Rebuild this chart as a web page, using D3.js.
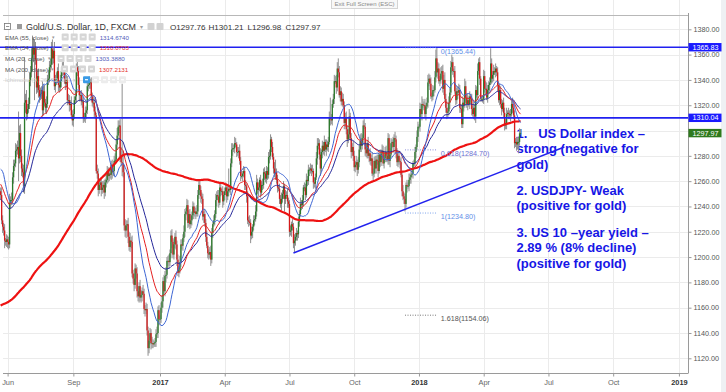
<!DOCTYPE html>
<html>
<head>
<meta charset="utf-8">
<script src="https://cdn.jsdelivr.net/npm/d3@7/dist/d3.min.js"></script>
<style>
html,body{margin:0;padding:0;background:#fff;}
svg{display:block;}
</style>
</head>
<body>
<svg id="chart" width="726" height="392"></svg>
<script>
// ---------------- DATA ----------------
// Daily closes before the visible window (Aug 10 2015 - May 20 2016), used only to warm up the moving averages
const priorCloses = [
1103,1108,1124,1115,1113,1118,1117,1127,1153,1160,1153,1138,1124,1124,1134,1133,
1142,1133,1124,1121,1120,1104,1109,1103,1108,1108,1103,1118,1117,1138,1132,1133,1132,1154,1145,1131,1127,1114,
1114,1136,1137,1146,1146,1140,1156,1168,1165,1167,1182,1186,1177,1172,1170,1176,1166,1164,1166,1176,1166,1147,
1136,1133,1116,1104,1088,1089,1089,1084,1077,1081,1084,1083,1068,1077,1075,1068,1071,1075,1070,1058,1065,
1061,1054,1062,1086,1075,1073,1075,1074,1076,1063,1062,1064,1050,1049,1068,1075,1078,1069,1076,1070,1071,1059,1061,
1075,1082,1092,1108,1100,1103,1097,1086,1092,1074,1089,1089,1087,1099,1097,1095,1108,1106,1115,1117,1119,
1118,1126,1140,1157,1173,1158,1196,1193,1245,1238,1207,1209,1210,1226,1231,1209,1223,1237,1253,1245,1226,
1238,1232,1263,1273,1265,1258,1263,1255,1272,1258,1246,1232,1266,1257,1245,1242,1220,1222,1224,1220,1242,1233,1236,
1222,1219,1234,1225,1238,1243,1258,1260,1245,1228,1234,1235,1255,1250,1251,1232,1236,1242,1250,1266,1292,
1294,1290,1279,1274,1290,1264,1264,1276,1264,1273,1281,1277,1258,1254,1252
];
// Daily closes, one per weekday, from May 23 2016 to May 23 2018 (open = previous close)
const closes = [
1249,1229,1224,1221,1213,1212,1214,
1212,1210,1243,1245,1245,1263,1272,1274,1284,1285,1287,1278,1298,1280,1270,1267,1256,1322,1324,1313,1317,1321,
1340,1346,1357,1366,1360,1366,1356,1334,1343,1332,1327,1329,1332,1316,1331,1322,1318,1321,1340,1341,1350,
1352,1366,1357,1363,1335,1340,1341,1347,1336,1334,1339,1347,1350,1347,1341,1337,1340,1324,1324,1320,1321,1312,1308,
1313,1324,1327,1350,1347,1336,1328,1328,1323,1323,1310,1310,1314,1316,1335,1336,1338,1338,1327,1322,1322,1315,
1312,1268,1266,1253,1257,1259,1253,1255,1257,1251,1259,1261,1268,1264,1266,1265,1273,1267,1268,1276,1277,
1289,1296,1303,1304,1279,1275,1274,1267,1225,1221,1225,1226,1216,1208,1213,1212,1187,1183,1178,1191,1187,1173,
1169,1177,1168,1170,1173,1171,1159,1158,1159,1142,1128,1134,1140,1132,1132,1131,1132,1133,1139,1140,1158,1151,
1151,1160,1165,1181,1173,1185,1186,1197,1197,1196,1203,1217,1212,1202,1210,1216,1210,1198,1188,1190,1196,1210,
1209,1215,1220,1234,1236,1241,1227,1234,1226,1229,1233,1240,1235,1236,1234,1236,1249,1257,1253,1248,
1246,1232,1234,1227,1216,1209,1203,1202,1204,1198,1219,1226,1229,1234,1245,1249,1248,1243,1255,1252,1252,1244,1249,
1252,1255,1248,1252,1254,1253,1274,1285,1286,1286,1290,1289,1283,1283,1284,1276,1264,1264,1266,1268,
1257,1256,1248,1229,1228,1227,1217,1220,1224,1229,1230,1236,1259,1253,1255,1261,1251,1257,1257,1267,1266,1262,1268,
1265,1279,1280,1293,1287,1279,1270,1266,1267,1261,1255,1254,1246,1242,1246,1250,1256,1246,1249,1249,1244,1242,
1220,1221,1226,1224,1211,1213,1216,1219,1218,1228,1234,1242,1241,1245,1255,1255,1249,1261,1260,1269,1269,
1270,1268,1268,1259,1258,1263,1278,1288,1290,1281,1270,1283,1288,1284,1291,1285,1289,1287,1291,1310,1309,1308,1321,
1325,1339,1339,1334,1349,1346,1328,1331,1323,1325,1320,1306,1310,1301,1293,1297,1311,1294,1283,1287,1280,
1271,1273,1275,1269,1275,1285,1292,1288,1294,1304,1303,1285,1282,1290,1280,1282,1276,1278,1266,1266,1276,1270,
1277,1276,1268,1281,1275,1282,1284,1274,1278,1283,1280,1277,1294,1276,1281,1290,1291,1287,1294,1293,1282,1275,
1280,1276,1275,1265,1252,1248,1246,1242,1257,1256,1256,1261,1263,1265,1266,1274,1274,1283,1287,1295,1303,
1303,1317,1313,1321,1320,1320,1313,1319,1322,1338,1341,1337,1327,1327,1332,1332,1342,1357,1346,1349,1339,1340,1345,
1347,1333,1340,1325,1318,1314,1315,1322,1330,1350,1354,1347,1347,1331,1324,1331,1330,1332,1318,1317,
1305,1322,1320,1335,1326,1321,1324,1321,1327,1325,1317,1313,1318,1311,1332,1328,1347,1354,1341,1325,1325,1325,
1343,1333,1333,1326,1332,1336,1338,1353,1341,1344,1347,1346,1349,1346,1336,1324,1332,1321,1317,1322,1314,
1304,1306,1313,1314,1313,1312,1313,1321,1318,1312,1290,1291,1289,1291,1291,1297.76,1297.97
];
// Upper wick: high minus max(open, close), in dollars
const wickUp = [
3,6,4,3,5,2,4,
3,4,7,3,6,4,5,3,6,4,5,28,6,7,5,4,6,36,5,8,4,5,
6,5,8,9,7,6,4,9,5,6,4,5,3,7,4,5,3,6,4,7,5,
5,4,6,3,7,4,5,3,6,4,5,3,4,6,3,5,4,3,5,4,3,6,4,
4,3,5,3,5,4,6,3,4,5,3,4,5,3,6,4,5,3,4,3,5,4,
4,2,5,4,5,3,4,5,3,4,3,5,4,3,4,5,3,4,3,4,5,
4,6,5,4,5,8,62,10,6,5,4,3,5,4,6,3,5,3,4,4,3,5,
4,3,5,4,3,5,4,3,5,4,3,5,4,3,5,3,2,3,4,5,3,4,
3,4,5,3,5,4,6,3,4,5,3,4,5,3,4,3,5,3,4,3,5,4,
4,3,5,4,3,5,4,3,4,5,3,4,3,4,3,5,4,3,4,3,
3,4,2,4,3,5,3,3,4,5,4,2,4,3,5,3,4,5,3,4,2,4,3,
3,4,2,4,16,3,4,5,4,3,5,4,2,4,3,5,3,4,2,4,
3,4,2,4,3,5,3,4,2,4,3,5,6,3,4,2,4,3,5,3,4,2,4,
3,4,5,4,2,4,3,5,10,3,4,2,4,3,5,3,4,2,4,3,5,3,
3,4,2,4,3,5,3,4,2,4,3,5,3,4,2,4,3,5,3,4,2,
4,3,5,2,4,3,5,6,4,3,5,2,4,3,5,2,4,3,4,5,16,4,3,
4,5,4,5,5,8,5,4,3,5,4,3,4,5,3,4,6,3,4,3,5,
4,3,5,2,4,3,5,6,3,4,5,3,4,2,5,3,4,3,5,4,3,4,
3,4,5,2,4,3,5,4,3,4,5,2,4,3,5,4,2,4,3,5,3,4,
3,4,2,4,3,5,3,4,2,4,3,5,3,4,2,2,3,4,2,5,4,
2,5,4,6,4,3,5,3,4,6,4,3,5,3,4,3,5,7,9,5,4,3,5,
4,5,4,6,4,5,3,5,4,5,6,4,2,4,5,3,4,5,4,3,
4,5,3,6,4,3,5,3,4,2,4,3,5,3,4,3,6,3,4,2,2,3,
5,4,6,5,4,3,4,12,4,3,5,3,4,2,4,3,5,3,4,2,4,
4,3,5,2,4,3,4,3,5,3,4,3,4,3,4,4,3.24
];
// Lower wick: min(open, close) minus low, in dollars
const wickDown = [
4,3,5,4,6,3,4,
5,4,3,5,4,3,5,4,3,5,4,18,4,5,6,4,5,6,8,5,4,3,
4,5,4,10,6,36,4,5,4,6,5,3,4,5,4,3,4,5,3,4,3,
4,3,5,4,3,5,4,3,5,4,3,5,4,3,4,5,3,4,3,5,4,3,4,
5,4,3,5,4,3,5,4,3,5,4,3,4,5,3,4,3,5,4,3,4,5,
3,2,4,5,3,4,5,3,4,5,3,4,3,5,4,3,4,5,3,4,3,
3,4,3,5,4,3,10,4,4,5,6,4,5,3,4,5,3,4,5,3,4,5,
4,5,3,4,5,3,4,5,3,4,6,4,3,5,4,3,2,3,4,3,4,5,
4,3,4,5,3,4,5,3,4,5,3,4,5,3,4,3,4,5,3,4,3,4,
3,4,3,4,5,3,4,3,4,3,4,3,5,3,4,2,4,3,4,5,
4,3,5,3,4,2,4,4,3,5,3,4,2,4,3,5,3,4,2,4,3,5,3,
4,3,5,3,4,2,4,3,5,3,4,2,4,3,5,3,4,2,4,3,
4,3,5,3,4,2,6,3,5,3,4,2,4,3,5,3,4,2,4,3,5,3,4,
4,3,5,3,4,2,4,3,5,3,4,2,4,3,5,3,4,10,4,3,5,3,
4,3,5,3,4,7,4,3,5,3,4,2,4,3,5,3,4,2,4,3,5,
3,4,2,5,3,4,2,5,3,4,6,2,5,3,4,2,5,3,4,2,5,3,4,
3,4,2,5,3,4,2,5,3,4,2,5,3,4,6,3,4,2,5,3,4,
3,4,2,5,3,4,2,5,3,4,2,5,3,4,2,5,3,4,2,5,3,4,
4,3,5,2,4,3,5,2,4,3,5,2,4,3,5,2,4,3,5,2,4,3,
4,3,5,2,4,3,4,6,3,5,2,4,3,5,2,4,2,3,5,2,4,
2,4,3,5,2,4,3,5,2,4,3,5,2,4,3,5,2,4,3,5,2,4,3,
4,3,5,2,4,5,4,3,5,2,4,3,5,2,4,3,5,2,4,3,
3,3,5,2,4,3,5,2,4,3,5,2,4,3,5,2,4,3,5,2,2,3,
4,3,5,2,4,3,5,2,4,3,5,2,4,3,5,2,4,3,5,2,4,
4,3,5,2,4,3,5,2,4,3,4,3,5,4,9,3,0.78
];
const firstDay = "2016-05-23";
const lastCalendarDay = "2019-01-31";
const yTicks = [1120,1140,1160,1180,1200,1220,1240,1260,1280,1300,1320,1340,1360,1380];
const xTickMonths = ["2016-06","2016-09","2017-01","2017-04","2017-07","2017-10","2018-01","2018-04","2018-07","2018-10","2019-01"];
const monthAbbr = ["Jan","Feb","Mar","Apr","May","Jun","Jul","Aug","Sep","Oct","Nov","Dec"];
const horizontalLevels = [1365.83, 1310.04];
const trendDates = ["2017-07-07", "2018-07-24"];
const trendPrices = [1203.2, 1287.0];
const fibDates = ["2017-12-12", "2018-01-25"];
const fibLow = 1234.80, fibHigh = 1365.44;
const fibLevels = [0, 0.618, 1, 1.618];
const lastPrice = 1297.97;
const symbolTitle = "Gold/U.S. Dollar, 1D, FXCM";
const ohlcLabels = ["O1297.76", "H1301.21", "L1296.98", "C1297.97"];
const indicatorLabels = ["EMA (55, close)", "EMA (34, close)", "MA (20, close)", "MA (200, close)"];
const indicatorValues = ["1314.6740", "1310.0703", "1303.3880", "1307.2131"];
const hiddenIndicator = "Ichimoku (9, 26, 52, 26)";
const notes = ["1.   US Dollar index –", "strong (negative for", "gold)", "2. USDJPY- Weak", "(positive for gold)", "3. US 10 –year yield –", "2.89 % (8% decline)", "(positive for gold)"];
const tooltipText = "Exit Full Screen (ESC)";

// ---------------- CHART ----------------
const FONT = "'Liberation Sans', Arial, Helvetica, sans-serif";
const svg = d3.select("#chart").attr("font-family", FONT);
const plotR = 688, plotT = 16, plotB = 373;

// weekday calendar (bar index -> date)
const days = [];
for (let t = Date.parse(firstDay + "T00:00:00Z"); t <= Date.parse(lastCalendarDay + "T00:00:00Z"); t += 86400000) {
  const d = new Date(t); const w = d.getUTCDay();
  if (w > 0 && w < 6) days.push(d);
}
const iso = d => d.toISOString().slice(0, 10);
const dayIndex = s => days.findIndex(d => iso(d) === s);

const xs = d3.scaleLinear().domain([-0.643, 690.12]).range([0, plotR]);
const ys = d3.scaleLinear().domain([1120, 1380]).range([358.3, 29.3]);

// indicators
const all = priorCloses.concat(closes);
const off = priorCloses.length;
function sma(n) {
  return closes.map((_, i) => {
    const j = i + off; let s = 0;
    for (let k = j - n + 1; k <= j; k++) s += all[k];
    return s / n;
  });
}
function ema(n) {
  const a = 2 / (n + 1); let e = null; const out = [];
  for (let j = 0; j < all.length; j++) {
    if (j === n - 1) { let s = 0; for (let k = 0; k < n; k++) s += all[k]; e = s / n; }
    else if (j >= n) e = a * all[j] + (1 - a) * e;
    if (j >= off) out.push(e);
  }
  return out;
}

// background
svg.append("rect").attr("width", 726).attr("height", 392).attr("fill", "#ffffff");
svg.append("rect").attr("x", 721).attr("y", 0).attr("width", 5).attr("height", 392).attr("fill", "#eef0f3");

// grid
const xTickIdx = xTickMonths.map(m => days.findIndex(d => iso(d).slice(0, 7) === m));
const xTickLabels = xTickMonths.map(m => m.endsWith("-01") ? m.slice(0, 4) : monthAbbr[+m.slice(5) - 1]);
const grid = svg.append("g");
grid.selectAll("line.h").data(yTicks).join("line").attr("class", "h")
  .attr("x1", 3).attr("x2", plotR).attr("y1", d => Math.round(ys(d)) + 0.5).attr("y2", d => Math.round(ys(d)) + 0.5)
  .attr("stroke", "#ebebeb");
grid.selectAll("line.v").data(xTickIdx).join("line").attr("class", "v")
  .attr("x1", d => Math.round(xs(d)) + 0.5).attr("x2", d => Math.round(xs(d)) + 0.5)
  .attr("y1", 0).attr("y2", plotB).attr("stroke", "#ebebeb");

// annotation text (under the candles)
const noteY = [137.5, 153, 168.5, 194.5, 210, 236.5, 252, 267.5];
svg.append("g").selectAll("text").data(notes).join("text")
  .attr("x", 516.5).attr("y", (d, i) => noteY[i])
  .attr("font-size", 13).attr("font-weight", "bold").attr("fill", "#1616e6")
  .style("white-space", "pre").text(d => d);

// clip
svg.append("clipPath").attr("id", "plot").append("rect")
  .attr("x", 0).attr("y", plotT).attr("width", plotR).attr("height", plotB - plotT);
const pg = svg.append("g").attr("clip-path", "url(#plot)");

// candles
const bars = closes.map((c, i) => {
  const o = i > 0 ? closes[i - 1] : priorCloses[priorCloses.length - 1];
  return { i, o, c, h: Math.max(o, c) + wickUp[i], l: Math.min(o, c) - wickDown[i] };
});
pg.append("g").selectAll("line").data(bars).join("line")
  .attr("x1", d => xs(d.i)).attr("x2", d => xs(d.i))
  .attr("y1", d => ys(d.h)).attr("y2", d => ys(d.l))
  .attr("stroke", "#8e8e8e").attr("stroke-width", 1);
pg.append("g").selectAll("rect").data(bars).join("rect")
  .attr("x", d => xs(d.i) - 0.65).attr("width", 1.3)
  .attr("y", d => ys(Math.max(d.o, d.c)))
  .attr("height", d => Math.max(0.8, Math.abs(ys(d.o) - ys(d.c))))
  .attr("fill", d => d.c >= d.o ? "#2b7a2b" : "#d41a1a");

// moving averages
const lineGen = d3.line().x((d, i) => xs(i)).y(d => ys(d));
const maSeries = [
  { v: sma(200), color: "#ee1212", w: 2.2 },
  { v: ema(55), color: "#26289a", w: 1 },
  { v: ema(34), color: "#e52020", w: 1 },
  { v: sma(20), color: "#3d66d4", w: 1 }
];
maSeries.forEach(s => {
  pg.append("path").attr("d", lineGen(s.v)).attr("fill", "none")
    .attr("stroke", s.color).attr("stroke-width", s.w).attr("stroke-linejoin", "round");
});

// horizontal levels
pg.selectAll("line.lvl").data(horizontalLevels).join("line").attr("class", "lvl")
  .attr("x1", 0).attr("x2", plotR).attr("y1", d => ys(d)).attr("y2", d => ys(d))
  .attr("stroke", "#2020f0").attr("stroke-width", 1.6);

// trend line
pg.append("line")
  .attr("x1", xs(dayIndex(trendDates[0]))).attr("y1", ys(trendPrices[0]))
  .attr("x2", xs(dayIndex(trendDates[1]))).attr("y2", ys(trendPrices[1]))
  .attr("stroke", "#2222ee").attr("stroke-width", 1.5);

// fibonacci extension
const fibColors = { 0: "#5f8fe8", 0.618: "#6d72d2", 1: "#5f8fe8", 1.618: "#555555" };
const fx0 = xs(dayIndex(fibDates[0])), fx1 = xs(dayIndex(fibDates[1]));
fibLevels.forEach(l => {
  const p = fibHigh - l * (fibHigh - fibLow);
  pg.append("line").attr("x1", fx0).attr("x2", fx1).attr("y1", ys(p)).attr("y2", ys(p))
    .attr("stroke", fibColors[l]).attr("stroke-width", 0.8).attr("stroke-dasharray", "1,1.5");
  pg.append("text").attr("x", fx1 + 3.8).attr("y", ys(p) + 6)
    .attr("font-size", 7.2).attr("fill", fibColors[l]).text(l + "(" + p.toFixed(2) + ")");
});

// frame lines
svg.append("line").attr("x1", 3).attr("x2", plotR).attr("y1", 15.5).attr("y2", 15.5).attr("stroke", "#b8b8b8");
svg.append("line").attr("x1", 688.5).attr("x2", 688.5).attr("y1", 13).attr("y2", plotB).attr("stroke", "#9a9a9a");
svg.append("line").attr("x1", 3).attr("x2", 688.5).attr("y1", 373.5).attr("y2", 373.5).attr("stroke", "#9a9a9a");

// price tags (data)
const tagData = [
  { p: horizontalLevels[0], fill: "#1a1aff" },
  { p: horizontalLevels[1], fill: "#1a1aff" },
  { p: lastPrice, fill: lastPrice >= closes[closes.length - 2] ? "#2e7a1c" : "#d41a1a" }
];

// right axis (labels hidden where a price tag covers them, as in the reference)
const ya = svg.append("g").attr("transform", "translate(688.5,0)")
  .call(d3.axisRight(ys).tickValues(yTicks).tickFormat(d3.format(".2f")).tickSize(3).tickPadding(2));
ya.select(".domain").remove();
ya.selectAll("line").attr("stroke", "#9a9a9a");
ya.selectAll("text").attr("font-size", 7.2).attr("fill", "#555").attr("font-family", FONT)
  .attr("display", d => tagData.some(t => Math.abs(ys(t.p) - ys(d)) < 4) ? "none" : null);

// bottom axis
const xa = svg.append("g").attr("transform", "translate(0,373.5)")
  .call(d3.axisBottom(xs).tickValues(xTickIdx).tickFormat((d, i) => xTickLabels[i]).tickSize(3).tickPadding(3));
xa.select(".domain").remove();
xa.selectAll("line").attr("stroke", "#9a9a9a");
xa.selectAll("text").attr("font-size", 7.4).attr("font-family", FONT)
  .attr("fill", (d, i) => /^\d{4}$/.test(xTickLabels[i]) ? "#333" : "#666")
  .attr("font-weight", (d, i) => /^\d{4}$/.test(xTickLabels[i]) ? "bold" : "normal");

const tags = svg.append("g").selectAll("g").data(tagData).join("g");
tags.append("rect").attr("x", 688.5).attr("y", d => ys(d.p) - 4.2).attr("width", 33).attr("height", 8.4).attr("fill", d => d.fill);
tags.append("text").attr("x", 692.5).attr("y", d => ys(d.p) + 2.6).attr("font-size", 7.2).attr("fill", "#fff")
  .text(d => d3.format(".2f")(d.p));

// legend
const lg = svg.append("g");
lg.append("rect").attr("x", 4.5).attr("y", 23.5).attr("width", 6).attr("height", 6).attr("fill", "#fff").attr("stroke", "#777").attr("stroke-width", 0.8);
lg.append("line").attr("x1", 6).attr("x2", 9.2).attr("y1", 26.5).attr("y2", 26.5).attr("stroke", "#777").attr("stroke-width", 0.8);
lg.append("rect").attr("x", 17).attr("y", 24).attr("width", 5).attr("height", 5).attr("fill", "#9a9a9a");
lg.append("text").attr("x", 26).attr("y", 30).attr("font-size", 8.9).attr("fill", "#333").text(symbolTitle);
lg.append("text").attr("x", 140).attr("y", 29).attr("font-size", 6).attr("fill", "#999").text("▾");
[147.5, 156.5].forEach(x => lg.append("rect").attr("x", x).attr("y", 23).attr("width", 7).attr("height", 7).attr("rx", 1).attr("fill", "#d2d2d2"));
const ohlcX = [170, 208.5, 247.5, 285.5];
ohlcLabels.forEach((t, i) => lg.append("text").attr("x", ohlcX[i]).attr("y", 30).attr("font-size", 8.1).attr("fill", "#333").text(t));

const valueColors = ["#4f5bb8", "#e3302c", "#4f5bb8", "#e3302c"];
function iconRow(x, y, n, firstBlue, faded) {
  for (let k = 0; k < n; k++) {
    const blue = firstBlue && k === 0;
    lg.append("rect").attr("x", x + k * 9).attr("y", y - 6).attr("width", 7).attr("height", 7).attr("rx", 1)
      .attr("fill", blue ? "#3a9be6" : (faded ? "#ececec" : "#d6d6d6"));
    lg.append("rect").attr("x", x + k * 9 + 2).attr("y", y - 3.2).attr("width", 3).attr("height", 1.2).attr("fill", "#fff");
  }
}
indicatorLabels.forEach((t, i) => {
  const y = 39.5 + i * 10.7;
  const tx = lg.append("text").attr("x", 5).attr("y", y).attr("font-size", 6.2).attr("fill", "#555").text(t);
  const end = 5 + tx.node().getComputedTextLength();
  lg.append("text").attr("x", end + 3).attr("y", y - 0.5).attr("font-size", 5).attr("fill", "#999").text("▾");
  iconRow(end + 13, y, 4, false, false);
  lg.append("text").attr("x", end + 13 + 3 * 9 + 11).attr("y", y).attr("font-size", 6.2).attr("fill", valueColors[i]).text(indicatorValues[i]);
});
{
  const y = 39.5 + 4 * 10.7;
  const tx = lg.append("text").attr("x", 5).attr("y", y).attr("font-size", 6.2).attr("fill", "#cfcfcf").text(hiddenIndicator);
  const end = 5 + tx.node().getComputedTextLength();
  lg.append("text").attr("x", end + 3).attr("y", y - 0.5).attr("font-size", 5).attr("fill", "#ccc").text("▾");
  iconRow(end + 13, y, 5, true, true);
}

// tooltip
svg.append("rect").attr("x", 331.5).attr("y", -0.5).attr("width", 66).attr("height", 9).attr("fill", "#f8f8f8").attr("stroke", "#d4d4d4");
svg.append("text").attr("x", 364.5).attr("y", 6).attr("text-anchor", "middle").attr("font-size", 6).attr("fill", "#8a8a8a").text(tooltipText);
</script>
</body>
</html>
